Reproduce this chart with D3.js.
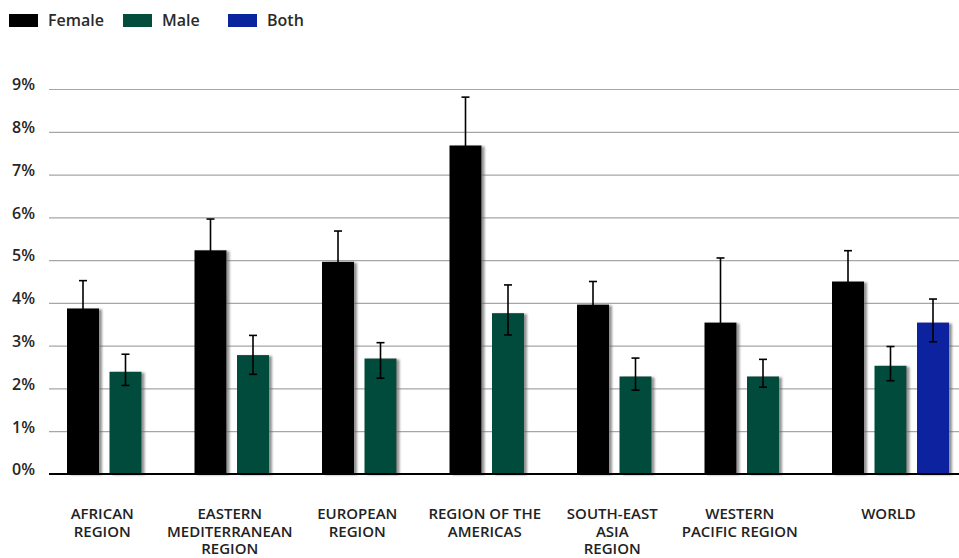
<!DOCTYPE html>
<html>
<head>
<meta charset="utf-8">
<script src="https://cdn.jsdelivr.net/npm/d3@7"></script>
<style>
  html, body { margin: 0; padding: 0; background: #fff; }
  svg { display: block; font-family: "Open Sans", "Noto Sans", sans-serif; }
</style>
</head>
<body>
<svg id="chart" width="959" height="558"></svg>
<script>
// Prevalence by WHO region, percent, with confidence intervals
const categories = ["AFRICAN REGION", "EASTERN MEDITERRANEAN REGION", "EUROPEAN REGION",
  "REGION OF THE AMERICAS", "SOUTH-EAST ASIA REGION", "WESTERN PACIFIC REGION", "WORLD"];
const categoryLines = [
  ["AFRICAN", "REGION"],
  ["EASTERN", "MEDITERRANEAN", "REGION"],
  ["EUROPEAN", "REGION"],
  ["REGION OF THE", "AMERICAS"],
  ["SOUTH-EAST", "ASIA", "REGION"],
  ["WESTERN", "PACIFIC REGION"],
  ["WORLD"]
];
const seriesNames = ["Female", "Male", "Both"];
const seriesColors = ["#000000", "#044c3b", "#0a249e"];

const female   = [3.87, 5.23, 4.96, 7.68, 3.96, 3.54, 4.50];
const femaleHi = [4.52, 5.96, 5.68, 8.81, 4.50, 5.05, 5.22];
const femaleLo = [3.22, 4.50, 4.24, 6.55, 3.42, 2.03, 3.78];

const male     = [2.39, 2.78, 2.70, 3.76, 2.28, 2.28, 2.53];
const maleHi   = [2.80, 3.24, 3.07, 4.42, 2.71, 2.68, 2.98];
const maleLo   = [2.07, 2.33, 2.24, 3.25, 1.96, 2.03, 2.18];

const both     = [null, null, null, null, null, null, 3.54];
const bothHi   = [null, null, null, null, null, null, 4.09];
const bothLo   = [null, null, null, null, null, null, 3.09];

const yTicks = [0, 1, 2, 3, 4, 5, 6, 7, 8, 9];

const values = [female, male, both];
const highs = [femaleHi, maleHi, bothHi];
const lows = [femaleLo, maleLo, bothLo];

// Flatten into bar records
const bars = [];
categories.forEach((c, i) => {
  seriesNames.forEach((s, j) => {
    if (values[j][i] != null) {
      bars.push({ cat: c, series: s, idx: j, value: values[j][i], hi: highs[j][i], lo: lows[j][i] });
    }
  });
});

const svg = d3.select("#chart");
const plotLeft = 49, plotRight = 959, plotTop = 89, plotBottom = 474;

const y = d3.scaleLinear().domain([0, 9]).range([plotBottom, plotTop]);
const x0 = d3.scaleBand().domain(categories).range([58, 58 + 7 * 127.5]).paddingInner(0).paddingOuter(0);
const x1 = d3.scaleBand().domain(seriesNames).range([9, 9 + 117]).paddingInner(0.247).paddingOuter(0);
const color = d3.scaleOrdinal().domain(seriesNames).range(seriesColors);

// Shadow behind bars
const defs = svg.append("defs");
const f = defs.append("filter").attr("id", "barShadow")
  .attr("x", "-20%").attr("y", "-5%").attr("width", "160%").attr("height", "115%");
f.append("feDropShadow").attr("dx", 3).attr("dy", 1).attr("stdDeviation", 1.3)
  .attr("flood-color", "#666").attr("flood-opacity", 0.7);

// Gridlines + y labels
const yAxis = d3.axisLeft(y).tickValues(yTicks)
  .tickSizeInner(-(plotRight - plotLeft)).tickSizeOuter(0).tickPadding(14)
  .tickFormat(d => d + "%");
const gy = svg.append("g").attr("transform", `translate(${plotLeft},0)`).call(yAxis);
gy.select(".domain").remove();
gy.selectAll(".tick line").attr("stroke", "#a6a6a6").attr("stroke-width", 1.2);
gy.selectAll(".tick text")
  .attr("fill", "#262626").attr("font-size", 16).attr("font-weight", 600)
  .attr("font-family", "'Open Sans', sans-serif").attr("dy", "0.05em");

// Bars
svg.append("g").selectAll("rect").data(bars).join("rect")
  .attr("x", d => x0(d.cat) + x1(d.series))
  .attr("y", d => y(d.value))
  .attr("width", x1.bandwidth())
  .attr("height", d => y(0) - y(d.value))
  .attr("fill", d => color(d.series))
  .attr("filter", "url(#barShadow)");

// Error bars
const capW = 8;
const eg = svg.append("g").attr("stroke", "#000").attr("stroke-width", 1.6);
const errs = eg.selectAll("g").data(bars).join("g")
  .attr("transform", d => `translate(${x0(d.cat) + x1(d.series) + x1.bandwidth() / 2},0)`);
errs.append("line").attr("x1", 0).attr("x2", 0)
  .attr("y1", d => y(d.hi)).attr("y2", d => y(d.lo));
errs.append("line").attr("x1", -capW / 2).attr("x2", capW / 2)
  .attr("y1", d => y(d.hi)).attr("y2", d => y(d.hi));
errs.append("line").attr("x1", -capW / 2).attr("x2", capW / 2)
  .attr("y1", d => y(d.lo)).attr("y2", d => y(d.lo));

// Baseline
svg.append("line")
  .attr("x1", plotLeft).attr("x2", plotRight)
  .attr("y1", y(0)).attr("y2", y(0))
  .attr("stroke", "#000").attr("stroke-width", 2);

// Category labels centred under each group's bars
const lg = svg.append("g").attr("font-size", 15).attr("font-weight", 600).attr("fill", "#222")
  .attr("text-anchor", "middle");
categories.forEach((c, i) => {
  const present = seriesNames.filter((s, j) => values[j][i] != null);
  const first = x0(c) + x1(present[0]);
  const last = x0(c) + x1(present[present.length - 1]) + x1.bandwidth();
  const cx = (first + last) / 2 - 2;
  const t = lg.append("text").attr("x", cx).attr("y", 519);
  categoryLines[i].forEach((line, k) => {
    t.append("tspan").attr("x", cx).attr("dy", k === 0 ? 0 : 17.5).text(line);
  });
});

// Legend
const legendX = [9, 123, 228];
const leg = svg.append("g").selectAll("g").data(seriesNames).join("g")
  .attr("transform", (d, i) => `translate(${legendX[i]},14)`);
leg.append("rect").attr("width", 29).attr("height", 13).attr("fill", d => color(d));
leg.append("text").attr("x", 39).attr("y", 12)
  .attr("font-size", 16).attr("font-weight", 600).attr("fill", "#2a2a2a")
  .text(d => d);
</script>
</body>
</html>
